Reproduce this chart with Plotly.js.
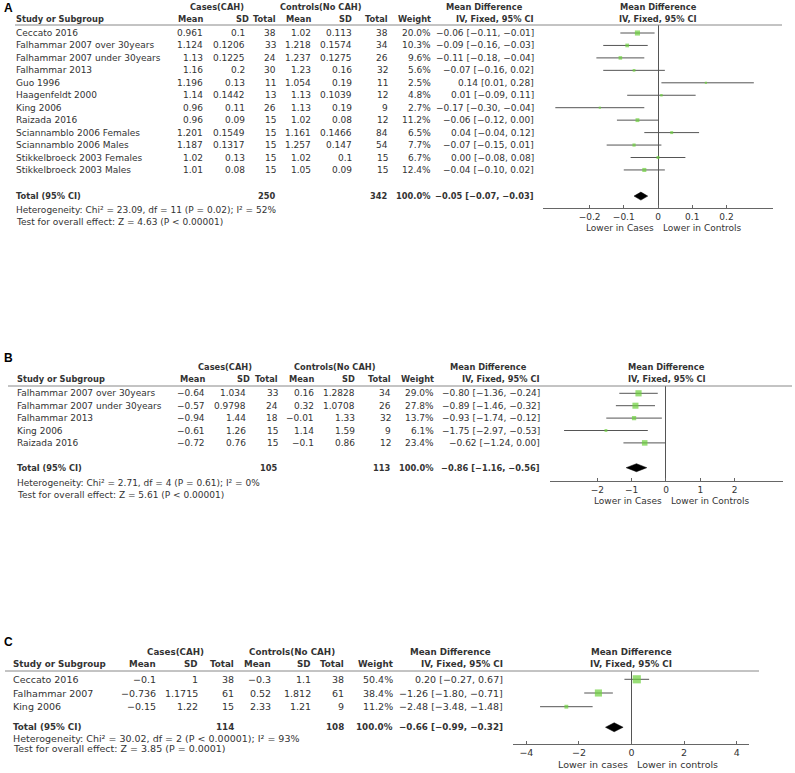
<!DOCTYPE html>
<html><head><meta charset="utf-8">
<script src="https://cdn.plot.ly/plotly-3.0.1.min.js"></script>
<style>html,body{margin:0;padding:0;background:#fff}</style>
</head><body><div id="chart" style="width:795px;height:773px"></div>
<script>
// ---------- Panel A data ----------
const studiesA = ["Ceccato 2016","Falhammar 2007 over 30years","Falhammar 2007 under 30years","Falhammar 2013","Guo 1996","Haagenfeldt 2000","King 2006","Raizada 2016","Sciannamblo 2006 Females","Sciannamblo 2006 Males","Stikkelbroeck 2003 Females","Stikkelbroeck 2003 Males"];
const caseMeanA = [0.961,1.124,1.13,1.16,1.196,1.14,0.96,0.96,1.201,1.187,1.02,1.01];
const caseSDA = [0.1,0.1206,0.1225,0.2,0.13,0.1442,0.11,0.09,0.1549,0.1317,0.13,0.08];
const caseNA = [38,33,24,30,11,13,26,15,15,15,15,15];
const ctrlMeanA = [1.02,1.218,1.237,1.23,1.054,1.13,1.13,1.02,1.161,1.257,1.02,1.05];
const ctrlSDA = [0.113,0.1574,0.1275,0.16,0.19,0.1039,0.19,0.08,0.1466,0.147,0.1,0.09];
const ctrlNA = [38,34,26,32,11,12,9,12,84,54,15,15];
const weightA = [20.0,10.3,9.6,5.6,2.5,4.8,2.7,11.2,6.5,7.7,6.7,12.4];
const mdA = [-0.06,-0.09,-0.11,-0.07,0.14,0.01,-0.17,-0.06,0.04,-0.07,0.00,-0.04];
const loA = [-0.11,-0.16,-0.18,-0.16,0.01,-0.09,-0.30,-0.12,-0.04,-0.15,-0.08,-0.10];
const hiA = [-0.01,-0.03,-0.04,0.02,0.28,0.11,-0.04,0.00,0.12,0.01,0.08,0.02];
const totalA = {nCase:250, nCtrl:342, weight:100.0, md:-0.05, lo:-0.07, hi:-0.03};
const hetA = "Heterogeneity: Chi\u00b2 = 23.09, df = 11 (P = 0.02); I\u00b2 = 52%";
const testA = "Test for overall effect: Z = 4.63 (P < 0.00001)";
const ticksA = [-0.2,-0.1,0,0.1,0.2];
const lowerA = ["Lower in Cases","Lower in Controls"];

// ---------- Panel B data ----------
const studiesB = ["Falhammar 2007 over 30years","Falhammar 2007 under 30years","Falhammar 2013","King 2006","Raizada 2016"];
const caseMeanB = [-0.64,-0.57,-0.94,-0.61,-0.72];
const caseSDB = [1.034,0.9798,1.44,1.26,0.76];
const caseNB = [33,24,18,15,15];
const ctrlMeanB = [0.16,0.32,-0.01,1.14,-0.1];
const ctrlSDB = [1.2828,1.0708,1.33,1.59,0.86];
const ctrlNB = [34,26,32,9,12];
const weightB = [29.0,27.8,13.7,6.1,23.4];
const mdB = [-0.80,-0.89,-0.93,-1.75,-0.62];
const loB = [-1.36,-1.46,-1.74,-2.97,-1.24];
const hiB = [-0.24,-0.32,-0.12,-0.53,0.00];
const totalB = {nCase:105, nCtrl:113, weight:100.0, md:-0.86, lo:-1.16, hi:-0.56};
const hetB = "Heterogeneity: Chi\u00b2 = 2.71, df = 4 (P = 0.61); I\u00b2 = 0%";
const testB = "Test for overall effect: Z = 5.61 (P < 0.00001)";
const ticksB = [-2,-1,0,1,2];
const lowerB = ["Lower in Cases","Lower in Controls"];

// ---------- Panel C data ----------
const studiesC = ["Ceccato 2016","Falhammar 2007","King 2006"];
const caseMeanC = [-0.1,-0.736,-0.15];
const caseSDC = [1,1.1715,1.22];
const caseNC = [38,61,15];
const ctrlMeanC = [-0.3,0.52,2.33];
const ctrlSDC = [1.1,1.812,1.21];
const ctrlNC = [38,61,9];
const weightC = [50.4,38.4,11.2];
const mdC = [0.20,-1.26,-2.48];
const loC = [-0.27,-1.80,-3.48];
const hiC = [0.67,-0.71,-1.48];
const totalC = {nCase:114, nCtrl:108, weight:100.0, md:-0.66, lo:-0.99, hi:-0.32};
const hetC = "Heterogeneity: Chi\u00b2 = 30.02, df = 2 (P < 0.00001); I\u00b2 = 93%";
const testC = "Test for overall effect: Z = 3.85 (P = 0.0001)";
const ticksC = [-4,-2,0,2,4];
const lowerC = ["Lower in cases","Lower in controls"];

// ---------- layout helpers ----------
const W = 795, H = 773;
const FONT = "DejaVu Sans";
const TXT = "#333";
const GREEN = "#6cd03c";
const py = p => 1 - p / H;
const px = p => p / W;
const fmt = v => String(v).replace(/-/g, '\u2212');
const f2 = v => v.toFixed(2).replace('-', '\u2212');
const ci = (m, l, h) => f2(m) + ' [' + f2(l) + ', ' + f2(h) + ']';

const panels = [
  {letter:'A', studies:studiesA, cm:caseMeanA, cs:caseSDA, cn:caseNA, km:ctrlMeanA, ks:ctrlSDA, kn:ctrlNA, w:weightA, md:mdA, lo:loA, hi:hiA, tot:totalA, het:hetA, test:testA, ticks:ticksA, lower:lowerA,
   fs:9, letterY:8, hdr1:7, hdr2:19, top:25, bottom:208, row0:33, step:12.45, totGap:1.1, hetY:210, testY:222, lowerY:228,
   xl:543, xr:773, range:[-0.336,0.336], lineX0:15, lineX1:782, left:15,
   col:{m:204, sdH:250, sd:246, n:277, m2:312, sd2:353, n2:389, w:432, ci:535}, casesX:217, ctrlX:321, mdX:484, dHalf:4},
  {letter:'B', studies:studiesB, cm:caseMeanB, cs:caseSDB, cn:caseNB, km:ctrlMeanB, ks:ctrlSDB, kn:ctrlNB, w:weightB, md:mdB, lo:loB, hi:hiB, tot:totalB, het:hetB, test:testB, ticks:ticksB, lower:lowerB,
   fs:9, letterY:358, hdr1:367, hdr2:379, top:386, bottom:481, row0:393.3, step:12.4, totGap:1.0, hetY:483, testY:495, lowerY:501,
   xl:550, xr:783, range:[-3.38,3.41], lineX0:8, lineX1:792, left:16,
   col:{m:206, sdH:251, sd:247, n:279, m2:315, sd2:356, n2:392, w:435, ci:541}, casesX:225, ctrlX:335, mdX:488, dHalf:4},
  {letter:'C', studies:studiesC, cm:caseMeanC, cs:caseSDC, cn:caseNC, km:ctrlMeanC, ks:ctrlSDC, kn:ctrlNC, w:weightC, md:mdC, lo:loC, hi:hiC, tot:totalC, het:hetC, test:testC, ticks:ticksC, lower:lowerC,
   fs:9.5, letterY:642, hdr1:652, hdr2:664, top:671, bottom:744, row0:679.3, step:13.7, totGap:0.5, hetY:738, testY:748, lowerY:764,
   xl:513, xr:749, range:[-4.51,4.47], lineX0:5, lineX1:759, left:12,
   col:{m:157, sdH:199, sd:199, n:235, m2:272, sd2:312, n2:345, w:394, ci:504}, casesX:175, ctrlX:292, mdX:450, dHalf:4.5}
];

const traces = [], annotations = [], shapes = [];
const layout = {
  width: W, height: H, margin: {l:0, r:0, t:0, b:0},
  paper_bgcolor: '#fff', plot_bgcolor: 'rgba(0,0,0,0)', showlegend: false,
  font: {family: FONT, size: 9, color: TXT}
};

panels.forEach((p, k) => {
  const sfx = k === 0 ? '' : String(k + 1);
  const xid = 'x' + sfx, yid = 'y' + sfx;
  const n = p.studies.length;
  const rows = p.studies.map((_, i) => i);
  const totRow = n - 1 + 1 + p.totGap;
  const bfs = p.fs * 0.92; // bold text size

  layout['xaxis' + sfx] = {
    domain: [px(p.xl), px(p.xr)], range: p.range, anchor: yid,
    showgrid: false, zeroline: true, zerolinecolor: '#555', zerolinewidth: 1,
    showline: true, linecolor: '#666', linewidth: 1,
    ticks: 'inside', ticklen: 3, tickcolor: '#666', tickvals: p.ticks,
    tickfont: {family: FONT, size: p.fs, color: TXT}, fixedrange: true
  };
  layout['yaxis' + sfx] = {
    domain: [py(p.bottom), py(p.top)],
    range: [(p.bottom - p.row0) / p.step, (p.top - p.row0) / p.step],
    anchor: xid, visible: false, showgrid: false, zeroline: false, fixedrange: true
  };

  // CI lines
  const lx = [], ly = [];
  rows.forEach(i => { lx.push(p.lo[i], p.hi[i], null); ly.push(i, i, null); });
  traces.push({type:'scatter', mode:'lines', x:lx, y:ly, xaxis:xid, yaxis:yid,
    line:{color:'#555', width:1}, hoverinfo:'skip'});
  // weight squares
  traces.push({type:'scatter', mode:'markers', x:p.md, y:rows, xaxis:xid, yaxis:yid,
    marker:{symbol:'square', color:GREEN, size:p.w.map(v => Math.max(2.2, 1.15 * Math.sqrt(v))), line:{width:0}},
    hoverinfo:'skip'});
  // total diamond
  const h = p.dHalf / p.step;
  traces.push({type:'scatter', mode:'lines', fill:'toself', fillcolor:'#000',
    x:[p.tot.lo, p.tot.md, p.tot.hi, p.tot.md, p.tot.lo],
    y:[totRow, totRow - h, totRow, totRow + h, totRow],
    xaxis:xid, yaxis:yid, line:{color:'#000', width:0.5}, hoverinfo:'skip'});

  const A = (text, xp, y, yref, anchor, bold) => ({
    text: bold ? '<b>' + text + '</b>' : text, x: px(xp), xref: 'paper', y: y, yref: yref,
    xanchor: anchor, yanchor: 'middle', showarrow: false, borderpad: 0,
    font: {family: FONT, size: bold ? bfs : p.fs, color: TXT}});

  // panel letter
  annotations.push({text:'<b>' + p.letter + '</b>', x:px(3), xref:'paper', y:py(p.letterY), yref:'paper',
    xanchor:'left', yanchor:'middle', showarrow:false, borderpad:0,
    font:{family:'Liberation Sans', size:12, color:'#000'}});

  // header row 1
  const hy1 = py(p.hdr1), hy2 = py(p.hdr2);
  annotations.push(A('Cases(CAH)', p.casesX, hy1, 'paper', 'center', true));
  annotations.push(A('Controls(No CAH)', p.ctrlX, hy1, 'paper', 'center', true));
  annotations.push(A('Mean Difference', p.mdX, hy1, 'paper', 'center', true));
  annotations.push(A('Mean Difference', (p.xl + p.xr) / 2, hy1, 'paper', 'center', true));
  // header row 2
  annotations.push(A('Study or Subgroup', p.left, hy2, 'paper', 'left', true));
  annotations.push(A('Mean', p.col.m, hy2, 'paper', 'right', true));
  annotations.push(A('SD', p.col.sdH, hy2, 'paper', 'right', true));
  annotations.push(A('Total', p.col.n, hy2, 'paper', 'right', true));
  annotations.push(A('Mean', p.col.m2, hy2, 'paper', 'right', true));
  annotations.push(A('SD', p.col.sd2, hy2, 'paper', 'right', true));
  annotations.push(A('Total', p.col.n2, hy2, 'paper', 'right', true));
  annotations.push(A('Weight', p.col.w, hy2, 'paper', 'right', true));
  annotations.push(A('IV, Fixed, 95% CI', p.col.ci, hy2, 'paper', 'right', true));
  annotations.push(A('IV, Fixed, 95% CI', (p.xl + p.xr) / 2, hy2, 'paper', 'center', true));

  // study rows
  rows.forEach(i => {
    annotations.push(A(p.studies[i], p.left, i, yid, 'left'));
    annotations.push(A(fmt(p.cm[i]), p.col.m, i, yid, 'right'));
    annotations.push(A(fmt(p.cs[i]), p.col.sd, i, yid, 'right'));
    annotations.push(A(String(p.cn[i]), p.col.n, i, yid, 'right'));
    annotations.push(A(fmt(p.km[i]), p.col.m2, i, yid, 'right'));
    annotations.push(A(fmt(p.ks[i]), p.col.sd2, i, yid, 'right'));
    annotations.push(A(String(p.kn[i]), p.col.n2, i, yid, 'right'));
    annotations.push(A(p.w[i].toFixed(1) + '%', p.col.w, i, yid, 'right'));
    annotations.push(A(ci(p.md[i], p.lo[i], p.hi[i]), p.col.ci, i, yid, 'right'));
  });

  // total row
  annotations.push(A('Total (95% CI)', p.left, totRow, yid, 'left', true));
  annotations.push(A(String(p.tot.nCase), p.col.n, totRow, yid, 'right', true));
  annotations.push(A(String(p.tot.nCtrl), p.col.n2, totRow, yid, 'right', true));
  annotations.push(A(p.tot.weight.toFixed(1) + '%', p.col.w, totRow, yid, 'right', true));
  annotations.push(A(ci(p.tot.md, p.tot.lo, p.tot.hi), p.col.ci, totRow, yid, 'right', true));

  // footer
  annotations.push(A(p.het, p.left, py(p.hetY), 'paper', 'left'));
  annotations.push(A(p.test, p.left, py(p.testY), 'paper', 'left'));

  // lower in ... labels
  annotations.push({text:p.lower[0], x:0, xref:xid, y:py(p.lowerY), yref:'paper', xanchor:'right', xshift:-3,
    yanchor:'middle', showarrow:false, borderpad:0, font:{family:FONT, size:p.fs, color:TXT}});
  annotations.push({text:p.lower[1], x:0, xref:xid, y:py(p.lowerY), yref:'paper', xanchor:'left', xshift:4,
    yanchor:'middle', showarrow:false, borderpad:0, font:{family:FONT, size:p.fs, color:TXT}});

  // header rule
  shapes.push({type:'line', xref:'paper', yref:'paper', x0:px(p.lineX0), x1:px(p.lineX1),
    y0:py(p.top), y1:py(p.top), line:{color:'#888', width:1}});
});

layout.annotations = annotations;
layout.shapes = shapes;
Plotly.newPlot('chart', traces, layout, {displayModeBar:false, staticPlot:true});
</script>
</body></html>
